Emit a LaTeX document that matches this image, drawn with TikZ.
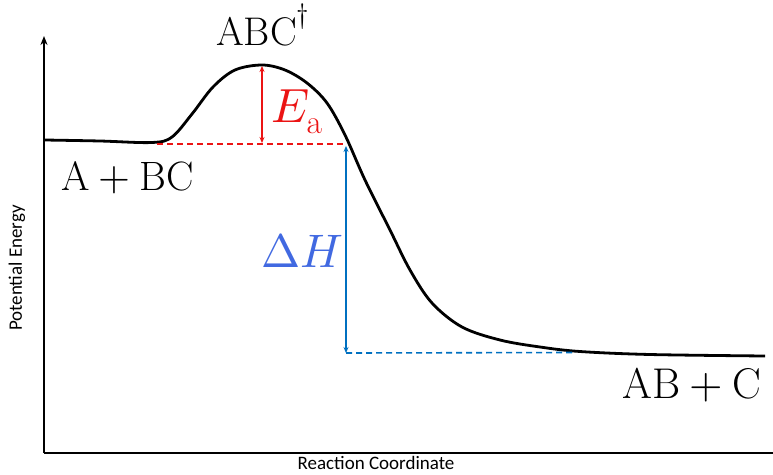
\documentclass[tikz,border=0pt]{standalone}
\usepackage{fontspec}
\usepackage{unicode-math}
\setmathfont{Latin Modern Math}
\newfontfamily\calib{Carlito}
\usetikzlibrary{arrows.meta}
\definecolor{eared}{RGB}{235,20,20}
\definecolor{dhblue}{RGB}{0,112,192}
\definecolor{dhtext}{RGB}{65,105,225}
\tikzset{
  axisline/.style={line width=2.4pt,black},
  curveline/.style={line width=2.8pt,black,line join=round},
  lbl/.style={inner sep=0pt,anchor=base west},
  axlbl/.style={inner sep=0pt,font=\calib\fontsize{19}{22}\selectfont},
}
\begin{document}
\begin{tikzpicture}[x=1pt,y=-1pt]
\useasboundingbox (0,0) rectangle (773,474);
% axes
\coordinate (origin) at (44,453);
\coordinate (ytop) at (44,36);
\coordinate (xend) at (773,453);
\draw[axisline,-{Stealth[length=9pt,width=7pt]}] (origin) -- (ytop);
\draw[axisline] (origin) -- (xend);
% curve
\draw[curveline] plot[smooth,tension=0.55] coordinates {
(45,140) (100,141) (152,142.5) (172,137) (192,114) (213,87) (235,70) (262,65) (285,70) (307,83) (327,103) (345,135) (365,180) (390,230) (410,270) (432,303) (462,327) (500,340) (540,347) (580,351.5) (650,354.5) (765,356)};
% Ea
\coordinate (eaL) at (157,144);
\coordinate (eaR) at (345,144);
\coordinate (eaTop) at (262,66);
\coordinate (eaBot) at (262,143);
\draw[eared,line width=1.6pt,dashed,dash pattern=on 6pt off 4pt] (eaL) -- (eaR);
\draw[eared,line width=1.6pt,{Stealth[length=6pt,width=5pt]}-{Stealth[length=6pt,width=5pt]}] (eaTop) -- (eaBot);
% dH
\coordinate (dhTop) at (346,146);
\coordinate (dhBot) at (346,353);
\coordinate (dhR) at (575,352.5);
\draw[dhblue,line width=1.6pt,dashed,dash pattern=on 6pt off 4pt] (dhBot) -- (dhR);
\draw[dhblue,line width=1.6pt,{Stealth[length=6pt,width=5pt]}-{Stealth[length=6pt,width=5pt]}] (dhTop) -- (dhBot);
% labels
\node[lbl] (ts) at (216,45) {\fontsize{40}{44}\selectfont $\mathrm{ABC}^{\dagger}$};
\node[lbl] (react) at (61,190) {\fontsize{41}{45}\selectfont $\mathrm{A}+\mathrm{BC}$};
\node[lbl] (prod) at (622,398) {\fontsize{43}{47}\selectfont $\mathrm{AB}+\mathrm{C}$};
\node[lbl,text=eared] (ea) at (271,122) {\fontsize{48}{52}\selectfont $E_{\mathrm{a}}$};
\node[lbl,text=dhtext] (dh) at (261,267) {\fontsize{47}{51}\selectfont $\Delta H$};
\node[axlbl,rotate=90] (ylab) at (17,268) {Potential Energy};
\node[axlbl,anchor=base] (xlab) at (376,469.5) {Reaction Coordinate};
\end{tikzpicture}
\end{document}
